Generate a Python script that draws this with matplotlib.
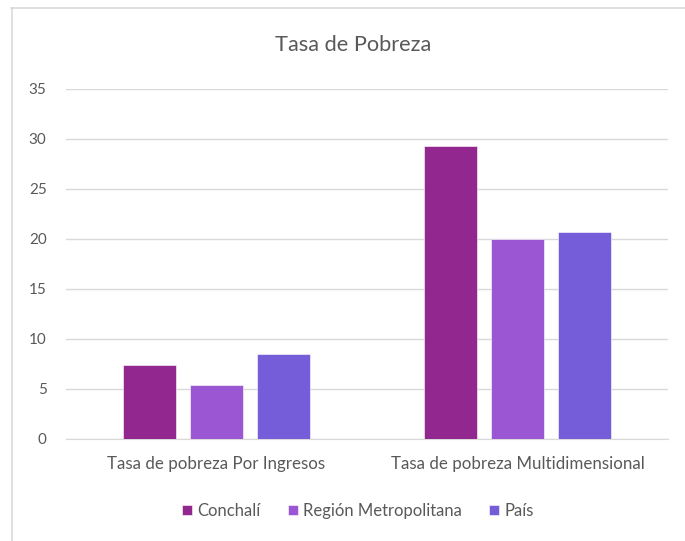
import matplotlib.pyplot as plt
import numpy as np

CATEGORIES = ['Tasa de pobreza Por Ingresos', 'Tasa de pobreza Multidimensional']
SERIES = ['Conchalí', 'Región Metropolitana', 'País']
CONCHALI = [7.4, 29.3]
REGION_METROPOLITANA = [5.4, 20.0]
PAIS = [8.5, 20.7]
COLORS = ['#92278F', '#9B57D3', '#755DD9']
TEXT = '#595959'
GRID = '#D9D9D9'


def main():
    plt.rcParams['font.family'] = ['Lato', 'DejaVu Sans']

    fig = plt.figure(figsize=(6.85, 5.41), dpi=100)
    ax = fig.add_axes([66 / 685, 1 - 439 / 541, 602 / 685, 350 / 541])

    x = np.arange(len(CATEGORIES))
    width = 0.176
    step = 0.222
    for i, (name, vals) in enumerate(zip(SERIES, [CONCHALI, REGION_METROPOLITANA, PAIS])):
        ax.bar(x + (i - 1) * step, vals, width, color=COLORS[i], label=name,
               edgecolor='white', linewidth=0.4, zorder=3)

    ax.set_xlim(-0.5, 1.5)
    ax.set_ylim(0, 35)
    ax.set_yticks(range(0, 36, 5))
    ax.set_xticks(x)
    ax.set_xticklabels(CATEGORIES)
    ax.grid(axis='y', color=GRID, linewidth=1, zorder=0)
    for side in ['top', 'right', 'left']:
        ax.spines[side].set_visible(False)
    ax.spines['bottom'].set_color(GRID)
    ax.tick_params(axis='both', length=0, colors=TEXT)
    ax.tick_params(axis='y', pad=14, labelsize=11)
    ax.tick_params(axis='x', pad=12, labelsize=12.2)

    fig.text(353 / 685, 1 - 45 / 541, 'Tasa de Pobreza', ha='center', va='center',
             fontsize=15.7, color=TEXT)

    fig.legend(loc='center', bbox_to_anchor=(358 / 685, 1 - 511 / 541), ncol=3,
               frameon=False, fontsize=12, labelcolor=TEXT, handlelength=0.6,
               handleheight=0.6, handletextpad=0.35, columnspacing=1.6)

    # chart border (top and left visible)
    fig.add_artist(plt.Line2D([11 / 685, 1], [1 - 7.5 / 541, 1 - 7.5 / 541],
                              color=GRID, linewidth=1.2, transform=fig.transFigure))
    fig.add_artist(plt.Line2D([11.5 / 685, 11.5 / 685], [0, 1 - 7.5 / 541],
                              color=GRID, linewidth=1.2, transform=fig.transFigure))

    fig.savefig('out.png', dpi=100)


if __name__ == "__main__":
    main()
